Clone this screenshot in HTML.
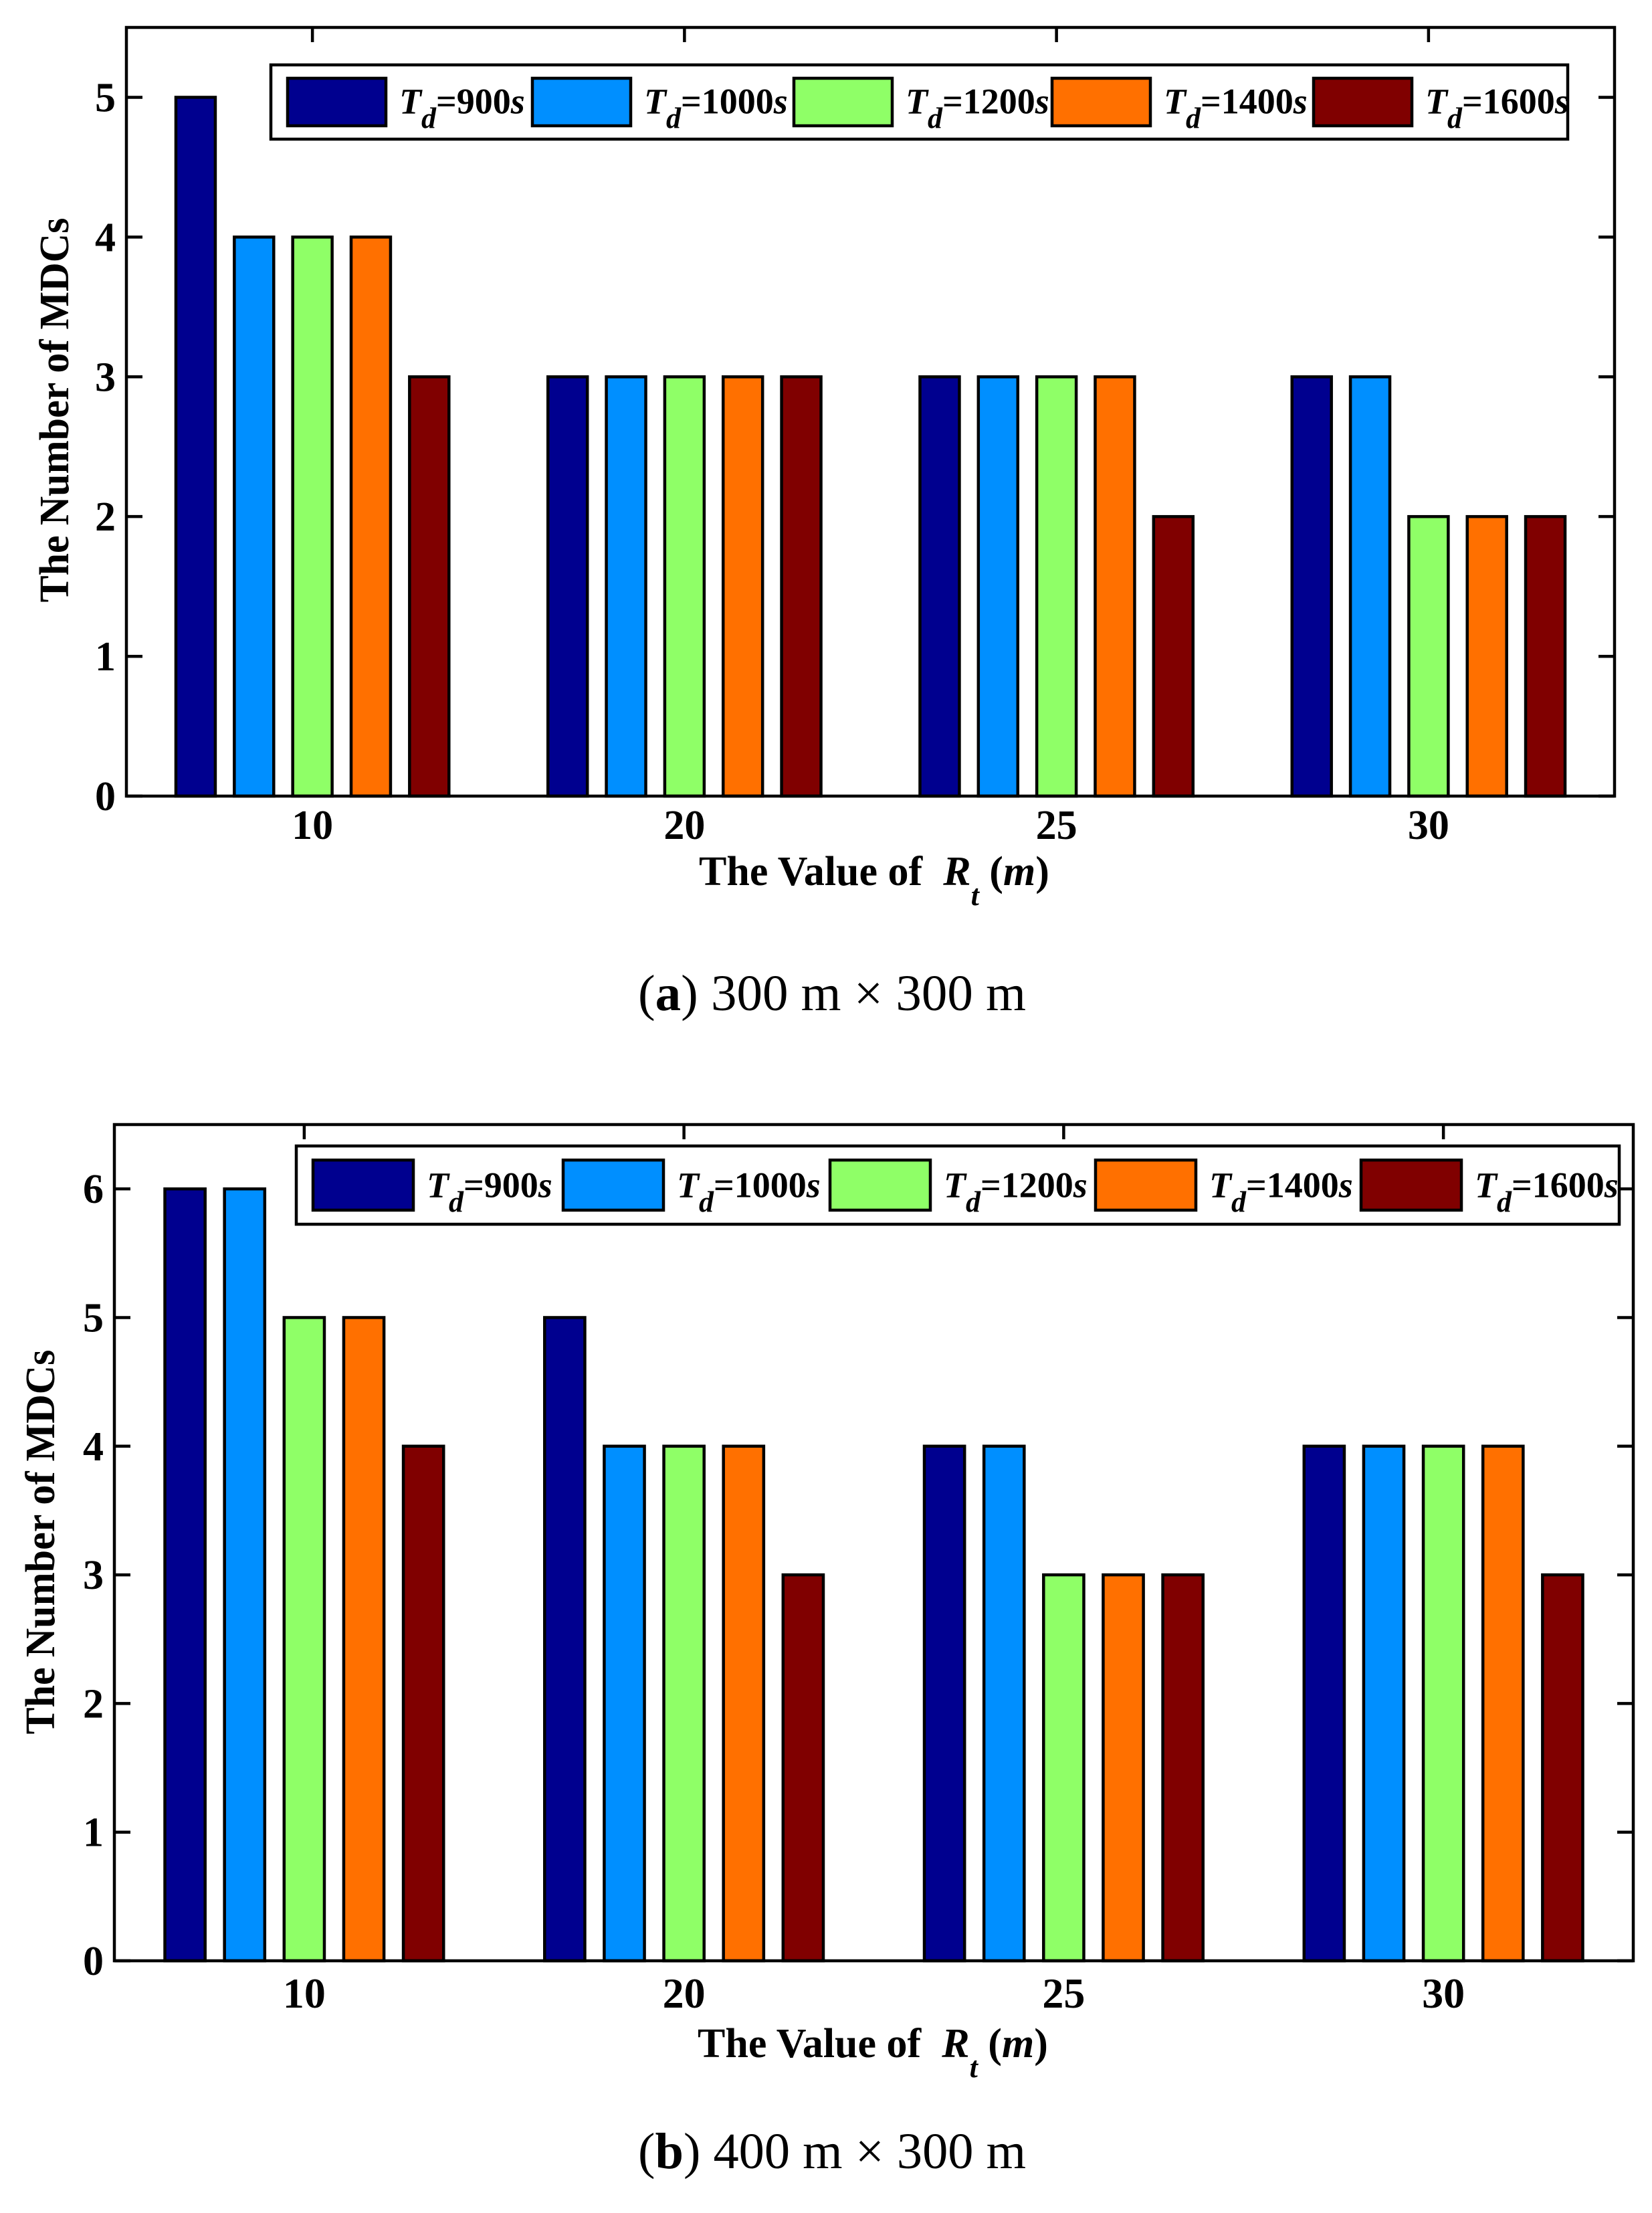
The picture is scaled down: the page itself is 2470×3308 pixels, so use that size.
<!DOCTYPE html>
<html><head><meta charset="utf-8"><style>
html,body{margin:0;padding:0;background:#fff;}
svg{display:block;}
text{font-family:"Liberation Serif",serif;fill:#000;}
</style></head><body>
<svg id="fig" width="2470" height="3308" viewBox="0 0 2470 3308" xmlns="http://www.w3.org/2000/svg"></svg>
<script>
const categories = ["10","20","25","30"];
const seriesNames = ["900s","1000s","1200s","1400s","1600s"];
const seriesColors = ["#00008f","#008fff","#8fff67","#ff7000","#800000"];
const valuesA_900 = [5,3,3,3];
const valuesA_1000 = [4,3,3,3];
const valuesA_1200 = [4,3,3,2];
const valuesA_1400 = [4,3,3,2];
const valuesA_1600 = [3,3,2,2];
const valuesB_900 = [6,5,4,4];
const valuesB_1000 = [6,4,4,4];
const valuesB_1200 = [5,4,3,4];
const valuesB_1400 = [5,4,3,4];
const valuesB_1600 = [4,3,3,3];
const yTicksA = [0,1,2,3,4,5];
const yTicksB = [0,1,2,3,4,5,6];

const NS = "http://www.w3.org/2000/svg";
const svg = document.getElementById('fig');
function mk(tag, attrs, parent, txt){
  const e = document.createElementNS(NS, tag);
  for (const k in attrs) e.setAttribute(k, attrs[k]);
  if (txt !== undefined) e.textContent = txt;
  (parent || svg).appendChild(e);
  return e;
}

function chart(cfg){
  const g = mk('g', {});
  
  
  const X = v => cfg.x0 + (v - 0.5) / 4 * (cfg.x1 - cfg.x0);
  const Y = v => cfg.y0 - v / cfg.ymax * (cfg.y0 - cfg.yTop);
  const gs = (cfg.x1 - cfg.x0) / 4;
  const pitch = gs * 0.157, bw = gs * 0.106;
  cfg.series.forEach((vals, si) => {
    vals.forEach((v, ci) => {
      const cx = X(ci + 1) + (si - 2) * pitch;
      const r = mk('rect', {x: cx - bw/2, y: Y(v), width: bw, height: Y(0) - Y(v), fill: seriesColors[si], stroke: '#000', 'stroke-width': 4.5}, g);
      
      
    });
  });
  const ax = mk('rect', {x: cfg.x0, y: cfg.yTop, width: cfg.x1 - cfg.x0, height: cfg.y0 - cfg.yTop, fill: 'none', stroke: '#000', 'stroke-width': 4.5}, g);
  
  
  cfg.yticks.forEach(t => {
    mk('line', {x1: cfg.x0, x2: cfg.x0 + 24, y1: Y(t), y2: Y(t), stroke: '#000', 'stroke-width': 4.5}, g);
    mk('line', {x1: cfg.x1, x2: cfg.x1 - 24, y1: Y(t), y2: Y(t), stroke: '#000', 'stroke-width': 4.5}, g);
    const tl = mk('text', {x: cfg.x0 - 16, y: Y(t) + 21, 'text-anchor': 'end', 'font-size': 62, 'font-weight': 'bold'}, g, String(t));
    
    
  });
  categories.forEach((c, ci) => {
    const x = X(ci + 1);
    mk('line', {x1: x, x2: x, y1: cfg.yTop, y2: cfg.yTop + 22, stroke: '#000', 'stroke-width': 4.5}, g);
    const tl = mk('text', {x: x, y: cfg.y0 + cfg.tickDy, 'text-anchor': 'middle', 'font-size': cfg.tickFs, 'font-weight': 'bold'}, g, c);
    
    
  });
  const yl = mk('text', {x: 0, y: 0, transform: `translate(${cfg.ylx},${cfg.yly}) rotate(-90)`, 'text-anchor': 'middle', 'font-size': 62, 'font-weight': 'bold', textLength: 575, lengthAdjust: 'spacingAndGlyphs', 'dominant-baseline': 'middle'}, g, 'The Number of MDCs');
  
  
  const xl = mk('text', {x: cfg.xtx, y: cfg.xty, 'font-size': 62, 'font-weight': 'bold', 'xml:space': 'preserve'}, g);
  
  
  mk('tspan', {}, xl, 'The Value of\u00a0\u00a0');
  mk('tspan', {'font-style': 'italic'}, xl, 'R');
  mk('tspan', {'font-style': 'italic', 'font-size': 44, dy: 30}, xl, 't');
  mk('tspan', {dy: -30}, xl, '\u00a0(');
  mk('tspan', {'font-style': 'italic'}, xl, 'm');
  mk('tspan', {}, xl, ')');
  const lg = mk('g', {}, g);
  
  
  mk('rect', {x: cfg.lx0, y: cfg.ly0, width: cfg.lx1 - cfg.lx0, height: cfg.ly1 - cfg.ly0, fill: '#fff', stroke: '#000', 'stroke-width': 4.5}, lg);
  const sh = (cfg.ly1 - cfg.ly0) * 0.64;
  const sy = (cfg.ly0 + cfg.ly1) / 2 - sh / 2;
  seriesNames.forEach((n, si) => {
    const e = mk('g', {}, lg);
    
    
    const sx = cfg.swx[si];
    mk('rect', {x: sx, y: sy, width: cfg.sww, height: sh, fill: seriesColors[si], stroke: '#000', 'stroke-width': 4.5}, e);
    const t = mk('text', {x: sx + cfg.sww + 20, y: sy + sh * 0.74, 'font-size': 54, 'font-weight': 'bold'}, e);
    mk('tspan', {'font-style': 'italic'}, t, 'T');
    mk('tspan', {'font-style': 'italic', 'font-size': 44, dy: 22}, t, 'd');
    mk('tspan', {dy: -22}, t, '=' + n.replace('s', ''));
    mk('tspan', {'font-style': 'italic'}, t, 's');
  });
  const cp = mk('text', {x: cfg.capx, y: cfg.capy, 'font-size': 76, textLength: 580, lengthAdjust: 'spacingAndGlyphs'});
  
  
  mk('tspan', {}, cp, '(');
  mk('tspan', {'font-weight': 'bold'}, cp, cfg.letter);
  mk('tspan', {}, cp, ') ' + cfg.capText);
}

chart({name: 'chart-a', letter: 'a', capText: '300 m × 300 m',
  x0: 189, x1: 2414, y0: 1190, yTop: 41, ymax: 5.5, yticks: yTicksA,
  series: [valuesA_900, valuesA_1000, valuesA_1200, valuesA_1400, valuesA_1600],
  tickDy: 64, tickFs: 62,
  ylx: 88, yly: 613, xtx: 1045, xty: 1323,
  lx0: 405, lx1: 2344, ly0: 97, ly1: 208, swx: [430, 796, 1187, 1573, 1964], sww: 147,
  capx: 954, capy: 1510});

chart({name: 'chart-b', letter: 'b', capText: '400 m × 300 m',
  x0: 171, x1: 2442, y0: 2931, yTop: 1681, ymax: 6.5, yticks: yTicksB,
  series: [valuesB_900, valuesB_1000, valuesB_1200, valuesB_1400, valuesB_1600],
  tickDy: 70, tickFs: 64,
  ylx: 67, yly: 2305, xtx: 1043, xty: 3075,
  lx0: 443, lx1: 2421, ly0: 1713, ly1: 1830, swx: [468, 842, 1241, 1638, 2035], sww: 150,
  capx: 954, capy: 3241});
</script>
</body></html>
